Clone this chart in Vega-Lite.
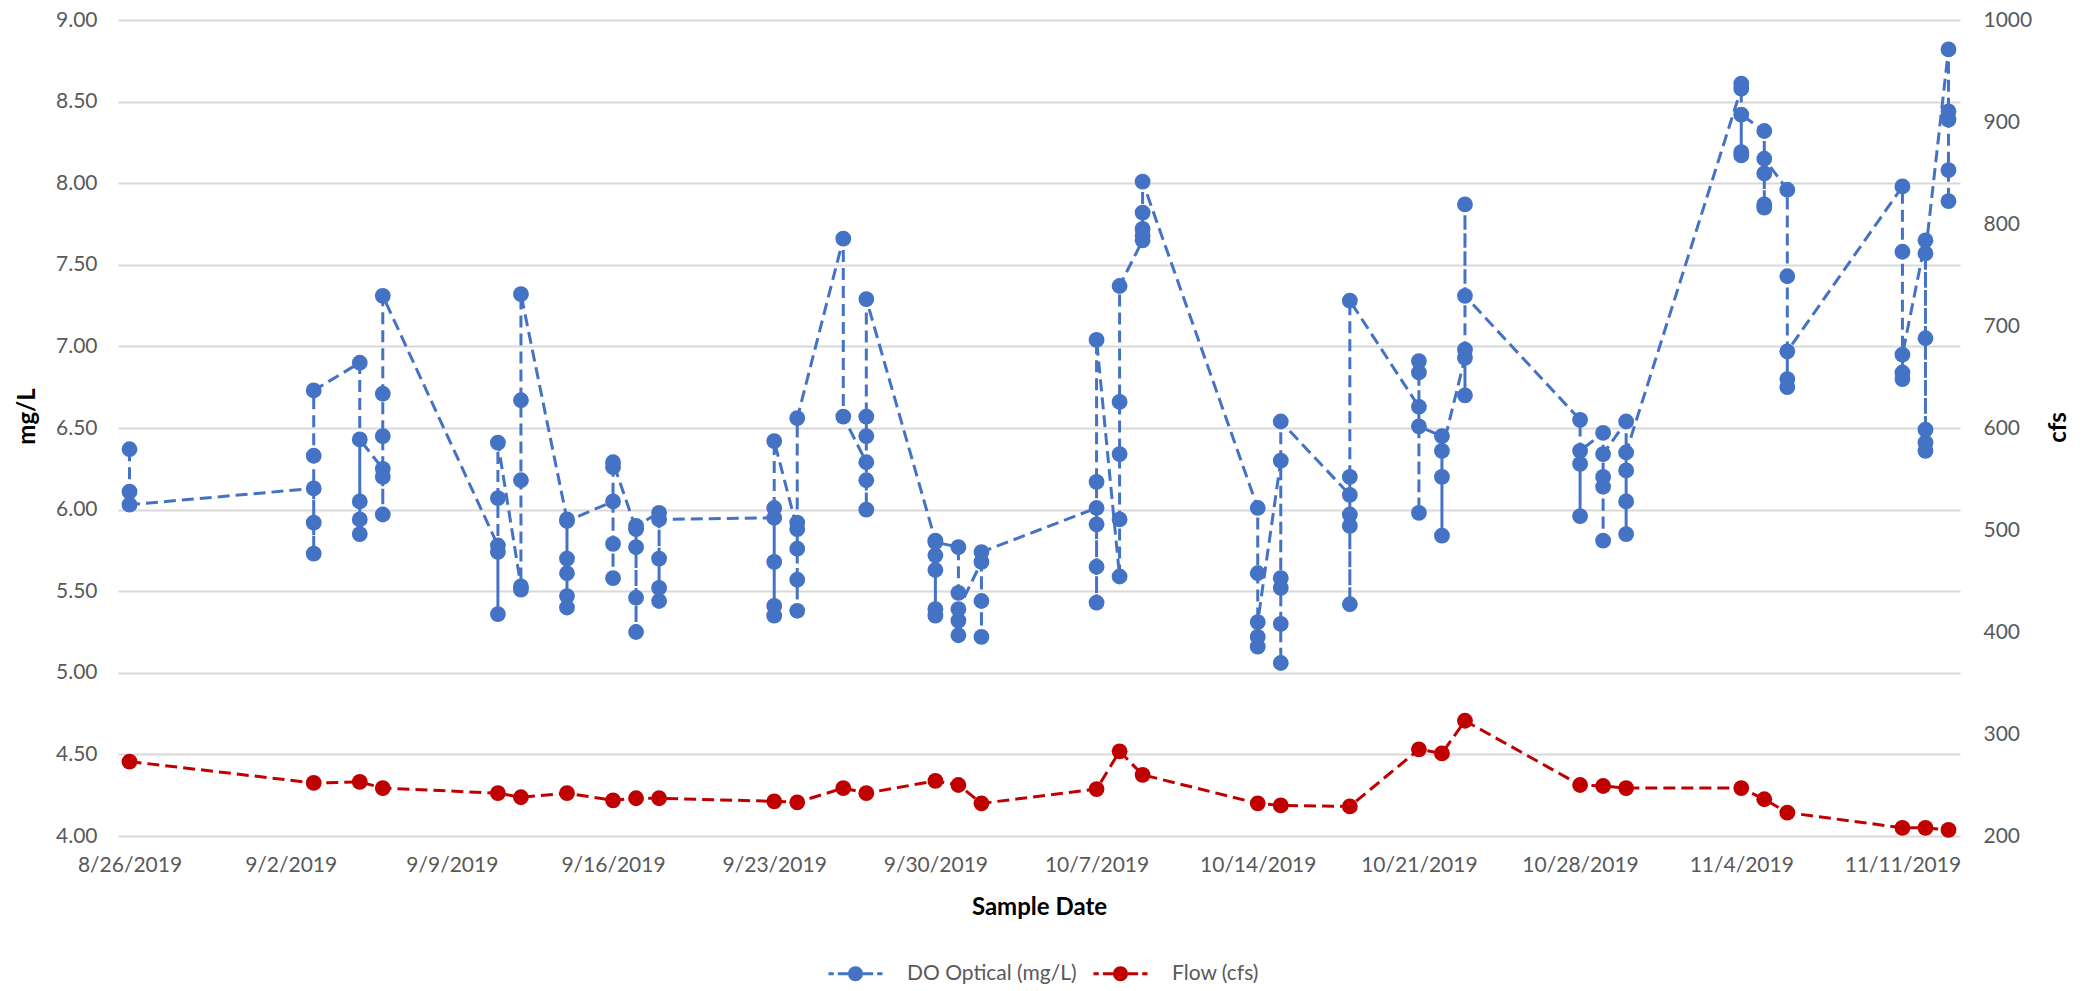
{
  "$schema": "https://vega.github.io/schema/vega-lite/v6.json",
  "width": 1842,
  "height": 816,
  "autosize": {"type": "none"},
  "padding": {"left": 118, "top": 20, "right": 125, "bottom": 155},
  "background": "white",
  "config": {
    "view": {"stroke": null},
    "font": "Lato",
    "axis": {"labelFont": "Lato", "labelFontSize": 21, "labelColor": "#595959", "titleFont": "Lato", "titleFontWeight": "bold", "titleFontSize": 24, "titleColor": "#000000", "ticks": false, "domain": false}
  },
  "datasets": {
    "do": [
      {"date": "2019-08-26T00:00:00", "mgL": 6.37}, {"date": "2019-08-26T00:00:00", "mgL": 6.11}, {"date": "2019-08-26T00:00:00", "mgL": 6.03},
      {"date": "2019-09-03T00:00:00", "mgL": 6.13}, {"date": "2019-09-03T00:00:00", "mgL": 5.92}, {"date": "2019-09-03T00:00:00", "mgL": 5.73}, {"date": "2019-09-03T00:00:00", "mgL": 6.33}, {"date": "2019-09-03T00:00:00", "mgL": 6.73},
      {"date": "2019-09-05T00:00:00", "mgL": 6.90}, {"date": "2019-09-05T00:00:00", "mgL": 6.05}, {"date": "2019-09-05T00:00:00", "mgL": 5.94}, {"date": "2019-09-05T00:00:00", "mgL": 5.85}, {"date": "2019-09-05T00:00:00", "mgL": 6.43},
      {"date": "2019-09-06T00:00:00", "mgL": 6.25}, {"date": "2019-09-06T00:00:00", "mgL": 6.20}, {"date": "2019-09-06T00:00:00", "mgL": 5.97}, {"date": "2019-09-06T00:00:00", "mgL": 6.45}, {"date": "2019-09-06T00:00:00", "mgL": 6.71}, {"date": "2019-09-06T00:00:00", "mgL": 7.31},
      {"date": "2019-09-11T00:00:00", "mgL": 5.78}, {"date": "2019-09-11T00:00:00", "mgL": 5.74}, {"date": "2019-09-11T00:00:00", "mgL": 5.36}, {"date": "2019-09-11T00:00:00", "mgL": 6.07}, {"date": "2019-09-11T00:00:00", "mgL": 6.41},
      {"date": "2019-09-12T00:00:00", "mgL": 5.53}, {"date": "2019-09-12T00:00:00", "mgL": 5.51}, {"date": "2019-09-12T00:00:00", "mgL": 6.18}, {"date": "2019-09-12T00:00:00", "mgL": 6.67}, {"date": "2019-09-12T00:00:00", "mgL": 7.32},
      {"date": "2019-09-14T00:00:00", "mgL": 5.94}, {"date": "2019-09-14T00:00:00", "mgL": 5.70}, {"date": "2019-09-14T00:00:00", "mgL": 5.61}, {"date": "2019-09-14T00:00:00", "mgL": 5.47}, {"date": "2019-09-14T00:00:00", "mgL": 5.40}, {"date": "2019-09-14T00:00:00", "mgL": 5.93},
      {"date": "2019-09-16T00:00:00", "mgL": 6.05}, {"date": "2019-09-16T00:00:00", "mgL": 5.79}, {"date": "2019-09-16T00:00:00", "mgL": 5.58}, {"date": "2019-09-16T00:00:00", "mgL": 6.26}, {"date": "2019-09-16T00:00:00", "mgL": 6.29},
      {"date": "2019-09-17T00:00:00", "mgL": 5.88}, {"date": "2019-09-17T00:00:00", "mgL": 5.77}, {"date": "2019-09-17T00:00:00", "mgL": 5.46}, {"date": "2019-09-17T00:00:00", "mgL": 5.25}, {"date": "2019-09-17T00:00:00", "mgL": 5.90},
      {"date": "2019-09-18T00:00:00", "mgL": 5.98}, {"date": "2019-09-18T00:00:00", "mgL": 5.70}, {"date": "2019-09-18T00:00:00", "mgL": 5.52}, {"date": "2019-09-18T00:00:00", "mgL": 5.44}, {"date": "2019-09-18T00:00:00", "mgL": 5.94},
      {"date": "2019-09-23T00:00:00", "mgL": 5.95}, {"date": "2019-09-23T00:00:00", "mgL": 5.68}, {"date": "2019-09-23T00:00:00", "mgL": 5.41}, {"date": "2019-09-23T00:00:00", "mgL": 5.35}, {"date": "2019-09-23T00:00:00", "mgL": 6.01}, {"date": "2019-09-23T00:00:00", "mgL": 6.42},
      {"date": "2019-09-24T00:00:00", "mgL": 5.88}, {"date": "2019-09-24T00:00:00", "mgL": 5.76}, {"date": "2019-09-24T00:00:00", "mgL": 5.57}, {"date": "2019-09-24T00:00:00", "mgL": 5.38}, {"date": "2019-09-24T00:00:00", "mgL": 5.92}, {"date": "2019-09-24T00:00:00", "mgL": 6.56},
      {"date": "2019-09-26T00:00:00", "mgL": 7.66}, {"date": "2019-09-26T00:00:00", "mgL": 6.57},
      {"date": "2019-09-27T00:00:00", "mgL": 6.29}, {"date": "2019-09-27T00:00:00", "mgL": 6.18}, {"date": "2019-09-27T00:00:00", "mgL": 6.00}, {"date": "2019-09-27T00:00:00", "mgL": 6.45}, {"date": "2019-09-27T00:00:00", "mgL": 6.57}, {"date": "2019-09-27T00:00:00", "mgL": 7.29},
      {"date": "2019-09-30T00:00:00", "mgL": 5.81}, {"date": "2019-09-30T00:00:00", "mgL": 5.72}, {"date": "2019-09-30T00:00:00", "mgL": 5.63}, {"date": "2019-09-30T00:00:00", "mgL": 5.39}, {"date": "2019-09-30T00:00:00", "mgL": 5.35}, {"date": "2019-09-30T00:00:00", "mgL": 5.80},
      {"date": "2019-10-01T00:00:00", "mgL": 5.77}, {"date": "2019-10-01T00:00:00", "mgL": 5.49}, {"date": "2019-10-01T00:00:00", "mgL": 5.32}, {"date": "2019-10-01T00:00:00", "mgL": 5.23}, {"date": "2019-10-01T00:00:00", "mgL": 5.39},
      {"date": "2019-10-02T00:00:00", "mgL": 5.68}, {"date": "2019-10-02T00:00:00", "mgL": 5.44}, {"date": "2019-10-02T00:00:00", "mgL": 5.22}, {"date": "2019-10-02T00:00:00", "mgL": 5.74},
      {"date": "2019-10-07T00:00:00", "mgL": 6.01}, {"date": "2019-10-07T00:00:00", "mgL": 5.91}, {"date": "2019-10-07T00:00:00", "mgL": 5.65}, {"date": "2019-10-07T00:00:00", "mgL": 5.43}, {"date": "2019-10-07T00:00:00", "mgL": 6.17}, {"date": "2019-10-07T00:00:00", "mgL": 7.04},
      {"date": "2019-10-08T00:00:00", "mgL": 5.59}, {"date": "2019-10-08T00:00:00", "mgL": 5.94}, {"date": "2019-10-08T00:00:00", "mgL": 6.34}, {"date": "2019-10-08T00:00:00", "mgL": 6.66}, {"date": "2019-10-08T00:00:00", "mgL": 7.37},
      {"date": "2019-10-09T00:00:00", "mgL": 7.65}, {"date": "2019-10-09T00:00:00", "mgL": 7.68}, {"date": "2019-10-09T00:00:00", "mgL": 7.72}, {"date": "2019-10-09T00:00:00", "mgL": 7.82}, {"date": "2019-10-09T00:00:00", "mgL": 8.01},
      {"date": "2019-10-14T00:00:00", "mgL": 6.01}, {"date": "2019-10-14T00:00:00", "mgL": 5.61}, {"date": "2019-10-14T00:00:00", "mgL": 5.16}, {"date": "2019-10-14T00:00:00", "mgL": 5.22}, {"date": "2019-10-14T00:00:00", "mgL": 5.31},
      {"date": "2019-10-15T00:00:00", "mgL": 6.30}, {"date": "2019-10-15T00:00:00", "mgL": 5.58}, {"date": "2019-10-15T00:00:00", "mgL": 5.52}, {"date": "2019-10-15T00:00:00", "mgL": 5.30}, {"date": "2019-10-15T00:00:00", "mgL": 5.06}, {"date": "2019-10-15T00:00:00", "mgL": 6.54},
      {"date": "2019-10-18T00:00:00", "mgL": 6.09}, {"date": "2019-10-18T00:00:00", "mgL": 6.20}, {"date": "2019-10-18T00:00:00", "mgL": 5.97}, {"date": "2019-10-18T00:00:00", "mgL": 5.90}, {"date": "2019-10-18T00:00:00", "mgL": 5.42}, {"date": "2019-10-18T00:00:00", "mgL": 7.28},
      {"date": "2019-10-21T00:00:00", "mgL": 6.63}, {"date": "2019-10-21T00:00:00", "mgL": 6.84}, {"date": "2019-10-21T00:00:00", "mgL": 6.91}, {"date": "2019-10-21T00:00:00", "mgL": 5.98}, {"date": "2019-10-21T00:00:00", "mgL": 6.51},
      {"date": "2019-10-22T00:00:00", "mgL": 6.45}, {"date": "2019-10-22T00:00:00", "mgL": 6.20}, {"date": "2019-10-22T00:00:00", "mgL": 5.84}, {"date": "2019-10-22T00:00:00", "mgL": 6.36},
      {"date": "2019-10-23T00:00:00", "mgL": 6.93}, {"date": "2019-10-23T00:00:00", "mgL": 6.70}, {"date": "2019-10-23T00:00:00", "mgL": 6.98}, {"date": "2019-10-23T00:00:00", "mgL": 7.87}, {"date": "2019-10-23T00:00:00", "mgL": 7.31},
      {"date": "2019-10-28T00:00:00", "mgL": 6.55}, {"date": "2019-10-28T00:00:00", "mgL": 5.96}, {"date": "2019-10-28T00:00:00", "mgL": 6.28}, {"date": "2019-10-28T00:00:00", "mgL": 6.36},
      {"date": "2019-10-29T00:00:00", "mgL": 6.47}, {"date": "2019-10-29T00:00:00", "mgL": 5.81}, {"date": "2019-10-29T00:00:00", "mgL": 6.14}, {"date": "2019-10-29T00:00:00", "mgL": 6.20}, {"date": "2019-10-29T00:00:00", "mgL": 6.34},
      {"date": "2019-10-30T00:00:00", "mgL": 6.54}, {"date": "2019-10-30T00:00:00", "mgL": 5.85}, {"date": "2019-10-30T00:00:00", "mgL": 6.05}, {"date": "2019-10-30T00:00:00", "mgL": 6.24}, {"date": "2019-10-30T00:00:00", "mgL": 6.35},
      {"date": "2019-11-04T00:00:00", "mgL": 8.58}, {"date": "2019-11-04T00:00:00", "mgL": 8.61}, {"date": "2019-11-04T00:00:00", "mgL": 8.17}, {"date": "2019-11-04T00:00:00", "mgL": 8.19}, {"date": "2019-11-04T00:00:00", "mgL": 8.42},
      {"date": "2019-11-05T00:00:00", "mgL": 8.32}, {"date": "2019-11-05T00:00:00", "mgL": 7.85}, {"date": "2019-11-05T00:00:00", "mgL": 7.87}, {"date": "2019-11-05T00:00:00", "mgL": 8.06}, {"date": "2019-11-05T00:00:00", "mgL": 8.15},
      {"date": "2019-11-06T00:00:00", "mgL": 7.96}, {"date": "2019-11-06T00:00:00", "mgL": 7.43}, {"date": "2019-11-06T00:00:00", "mgL": 6.75}, {"date": "2019-11-06T00:00:00", "mgL": 6.80}, {"date": "2019-11-06T00:00:00", "mgL": 6.97},
      {"date": "2019-11-11T00:00:00", "mgL": 7.98}, {"date": "2019-11-11T00:00:00", "mgL": 7.58}, {"date": "2019-11-11T00:00:00", "mgL": 6.80}, {"date": "2019-11-11T00:00:00", "mgL": 6.84}, {"date": "2019-11-11T00:00:00", "mgL": 6.95},
      {"date": "2019-11-12T00:00:00", "mgL": 7.65}, {"date": "2019-11-12T00:00:00", "mgL": 7.05}, {"date": "2019-11-12T00:00:00", "mgL": 6.36}, {"date": "2019-11-12T00:00:00", "mgL": 6.41}, {"date": "2019-11-12T00:00:00", "mgL": 6.49}, {"date": "2019-11-12T00:00:00", "mgL": 7.57},
      {"date": "2019-11-13T00:00:00", "mgL": 8.82}, {"date": "2019-11-13T00:00:00", "mgL": 8.44}, {"date": "2019-11-13T00:00:00", "mgL": 8.39}, {"date": "2019-11-13T00:00:00", "mgL": 8.08}, {"date": "2019-11-13T00:00:00", "mgL": 7.89}
    ],
    "flow": [
      {"date": "2019-08-26T00:00:00", "cfs": 273}, {"date": "2019-09-03T00:00:00", "cfs": 252}, {"date": "2019-09-05T00:00:00", "cfs": 253}, {"date": "2019-09-06T00:00:00", "cfs": 247},
      {"date": "2019-09-11T00:00:00", "cfs": 242}, {"date": "2019-09-12T00:00:00", "cfs": 238}, {"date": "2019-09-14T00:00:00", "cfs": 242}, {"date": "2019-09-16T00:00:00", "cfs": 235},
      {"date": "2019-09-17T00:00:00", "cfs": 237}, {"date": "2019-09-18T00:00:00", "cfs": 237}, {"date": "2019-09-23T00:00:00", "cfs": 234}, {"date": "2019-09-24T00:00:00", "cfs": 233},
      {"date": "2019-09-26T00:00:00", "cfs": 247}, {"date": "2019-09-27T00:00:00", "cfs": 242}, {"date": "2019-09-30T00:00:00", "cfs": 254}, {"date": "2019-10-01T00:00:00", "cfs": 250},
      {"date": "2019-10-02T00:00:00", "cfs": 232}, {"date": "2019-10-07T00:00:00", "cfs": 246}, {"date": "2019-10-08T00:00:00", "cfs": 283}, {"date": "2019-10-09T00:00:00", "cfs": 260},
      {"date": "2019-10-14T00:00:00", "cfs": 232}, {"date": "2019-10-15T00:00:00", "cfs": 230}, {"date": "2019-10-18T00:00:00", "cfs": 229}, {"date": "2019-10-21T00:00:00", "cfs": 285},
      {"date": "2019-10-22T00:00:00", "cfs": 281}, {"date": "2019-10-23T00:00:00", "cfs": 313}, {"date": "2019-10-28T00:00:00", "cfs": 250}, {"date": "2019-10-29T00:00:00", "cfs": 249},
      {"date": "2019-10-30T00:00:00", "cfs": 247}, {"date": "2019-11-04T00:00:00", "cfs": 247}, {"date": "2019-11-05T00:00:00", "cfs": 236}, {"date": "2019-11-06T00:00:00", "cfs": 223},
      {"date": "2019-11-11T00:00:00", "cfs": 208}, {"date": "2019-11-12T00:00:00", "cfs": 208}, {"date": "2019-11-13T00:00:00", "cfs": 206}
    ]
  },
  "layer": [
    {
      "data": {"name": "do"},
      "encoding": {
        "x": {
          "field": "date", "type": "temporal",
          "scale": {"domain": [{"year": 2019, "month": 8, "date": 25, "hours": 12}, {"year": 2019, "month": 11, "date": 13, "hours": 12}]},
          "axis": {
            "title": "Sample Date", "format": "%-m/%-d/%Y", "grid": false, "labelPadding": 18, "titleY": 71, "titleBaseline": "middle",
            "values": [
              {"year": 2019, "month": 8, "date": 26}, {"year": 2019, "month": 9, "date": 2}, {"year": 2019, "month": 9, "date": 9},
              {"year": 2019, "month": 9, "date": 16}, {"year": 2019, "month": 9, "date": 23}, {"year": 2019, "month": 9, "date": 30},
              {"year": 2019, "month": 10, "date": 7}, {"year": 2019, "month": 10, "date": 14}, {"year": 2019, "month": 10, "date": 21},
              {"year": 2019, "month": 10, "date": 28}, {"year": 2019, "month": 11, "date": 4}, {"year": 2019, "month": 11, "date": 11}
            ]
          }
        },
        "y": {
          "field": "mgL", "type": "quantitative",
          "scale": {"domain": [4, 9], "nice": false, "zero": false},
          "axis": {
            "title": "mg/L", "orient": "left", "format": ".2f", "values": [4, 4.5, 5, 5.5, 6, 6.5, 7, 7.5, 8, 8.5, 9],
            "grid": true, "gridColor": "#D9D9D9", "gridWidth": 2, "labelPadding": 21,
            "titleX": -91, "titleY": 396, "titleAngle": -90, "titleAlign": "center", "titleBaseline": "middle"
          }
        }
      },
      "layer": [
        {
          "mark": {"type": "line", "color": "#4472C4", "strokeWidth": 3, "strokeDash": [12, 6]},
          "encoding": {"order": {"value": null}}
        },
        {
          "mark": {"type": "point", "filled": true, "shape": "circle", "size": 250, "opacity": 1},
          "encoding": {
            "color": {
              "datum": "DO Optical (mg/L)", "type": "nominal",
              "scale": {"domain": ["DO Optical (mg/L)", "Flow (cfs)"], "range": ["#4472C4", "#C00000"]},
              "legend": {
                "title": null, "orient": "none", "direction": "horizontal", "legendX": 727, "legendY": 943,
                "symbolType": "M-3.6,-0.19H-2.9V0.19H-3.6Z M-2.35,-0.19H-1V0.19H-2.35Z M-1,0A1,1 0 1,1 1,0A1,1 0 1,1 -1,0Z M1,-0.19H2.35V0.19H1Z M2.9,-0.19H3.6V0.19H2.9Z",
                "symbolSize": 225, "symbolStrokeWidth": 0, "symbolOpacity": 1,
                "labelFont": "Lato", "labelFontSize": 21, "labelColor": "#595959", "labelLimit": 400, "labelOffset": 41, "columnPadding": 16, "padding": 0
              }
            }
          }
        }
      ]
    },
    {
      "data": {"name": "flow"},
      "encoding": {
        "x": {"field": "date", "type": "temporal"},
        "y": {
          "field": "cfs", "type": "quantitative",
          "scale": {"domain": [200, 1000], "nice": false, "zero": false},
          "axis": {
            "title": "cfs", "orient": "right", "format": "d", "values": [200, 300, 400, 500, 600, 700, 800, 900, 1000],
            "grid": false, "labelPadding": 23,
            "titleX": 98, "titleY": 407, "titleAngle": -90, "titleAlign": "center", "titleBaseline": "middle"
          }
        }
      },
      "layer": [
        {
          "mark": {"type": "line", "color": "#C00000", "strokeWidth": 3, "strokeDash": [12, 6]},
          "encoding": {"order": {"value": null}}
        },
        {
          "mark": {"type": "point", "filled": true, "shape": "circle", "size": 250, "opacity": 1},
          "encoding": {
            "color": {
              "datum": "Flow (cfs)", "type": "nominal",
              "scale": {"domain": ["DO Optical (mg/L)", "Flow (cfs)"], "range": ["#4472C4", "#C00000"]}
            }
          }
        }
      ]
    }
  ],
  "resolve": {"scale": {"y": "independent"}, "axis": {"y": "independent"}}
}
